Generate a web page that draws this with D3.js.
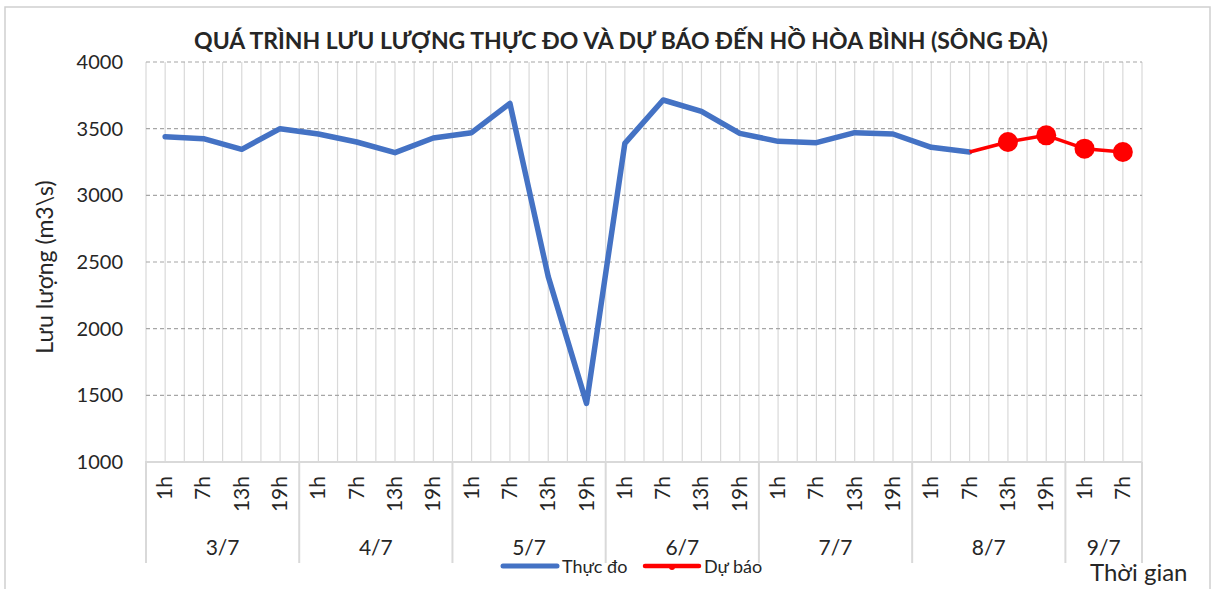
<!DOCTYPE html>
<html>
  <head>
    <meta charset="utf-8" />
    <title>Lưu lượng hồ Hòa Bình</title>
    <script src="https://d3js.org/d3.v7.min.js"></script>
    <style>
      body { margin: 0; background: #fff; }
      text { font-family: Lato, "Noto Sans", sans-serif; fill: #262626; }
    </style>
  </head>
  <body>
    <svg id="chart" width="1212" height="589"></svg>
    <script>
      // Data
      const days = ["3/7", "4/7", "5/7", "6/7", "7/7", "8/7", "9/7"];
      const hours = [
        ["1h", "7h", "13h", "19h"],
        ["1h", "7h", "13h", "19h"],
        ["1h", "7h", "13h", "19h"],
        ["1h", "7h", "13h", "19h"],
        ["1h", "7h", "13h", "19h"],
        ["1h", "7h", "13h", "19h"],
        ["1h", "7h"]
      ];
      const observed = [3440, 3425, 3345, 3500, 3460, 3400, 3320, 3430,
                        3470, 3690, 2390, 1440, 3390, 3715, 3630, 3465,
                        3405, 3395, 3470, 3460, 3360, 3325,
                        null, null, null, null];
      const forecast = [null, null, null, null, null, null, null, null,
                        null, null, null, null, null, null, null, null,
                        null, null, null, null, null, 3325,
                        3400, 3450, 3350, 3325];
      const yTicks = [1000, 1500, 2000, 2500, 3000, 3500, 4000];

      const plot = { left: 146, right: 1142, top: 62, bottom: 462 };

      // flatten categories
      const cats = [];
      days.forEach((d, i) => hours[i].forEach(h => cats.push({ day: d, hour: h, idx: cats.length })));

      const svg = d3.select('#chart');

      // outer border
      svg.append('rect')
         .attr('x', 5).attr('y', 7)
         .attr('width', 1205).attr('height', 620)
         .attr('fill', 'none').attr('stroke', '#cfcfcf').attr('stroke-width', 1.5);

      const x = d3.scaleBand()
                  .domain(cats.map(c => c.idx))
                  .range([plot.left, plot.right])
                  .padding(0);
      const bw = x.bandwidth();
      const cx = i => x(i) + bw / 2;

      const y = d3.scaleLinear()
                  .domain([1000, 4000])
                  .range([plot.bottom, plot.top]);

      // vertical gridlines (category edges + centers)
      const vlines = [];
      cats.forEach(c => { vlines.push(x(c.idx)); vlines.push(cx(c.idx)); });
      vlines.push(plot.right);
      svg.append('g').selectAll('line')
         .data(vlines).enter().append('line')
           .attr('x1', d => d).attr('x2', d => d)
           .attr('y1', plot.top).attr('y2', plot.bottom)
           .attr('stroke', '#d9d9d9').attr('stroke-width', 1.2);

      // horizontal dashed gridlines
      svg.append('g').selectAll('line')
         .data(yTicks.filter(t => t > 1000)).enter().append('line')
           .attr('x1', plot.left).attr('x2', plot.right)
           .attr('y1', d => y(d)).attr('y2', d => y(d))
           .attr('stroke', '#a6a6a6').attr('stroke-width', 1.2)
           .attr('stroke-dasharray', '4,3');

      // y axis labels
      const yAxis = svg.append('g')
         .attr('transform', `translate(${plot.left}, 0)`)
         .call(d3.axisLeft(y).tickValues(yTicks).tickFormat(d3.format('d'))
                 .tickSize(0).tickPadding(23));
      yAxis.select('.domain').remove();
      yAxis.selectAll('text')
           .style('font-family', 'Lato, "Noto Sans", sans-serif')
           .style('font-size', '20px').attr('fill', '#262626');

      // category axis line
      svg.append('line')
         .attr('x1', plot.left - 1).attr('x2', plot.right)
         .attr('y1', plot.bottom).attr('y2', plot.bottom)
         .attr('stroke', '#d9d9d9').attr('stroke-width', 2);

      // group separators
      const groupStart = [];
      let acc = 0;
      hours.forEach(h => { groupStart.push(acc); acc += h.length; });
      const sepX = groupStart.map(i => x(i)).concat([plot.right]);
      svg.append('g').selectAll('line')
         .data(sepX).enter().append('line')
           .attr('x1', d => d).attr('x2', d => d)
           .attr('y1', plot.bottom).attr('y2', 563)
           .attr('stroke', '#d9d9d9').attr('stroke-width', 2);

      // hour labels (rotated)
      svg.append('g').selectAll('text')
         .data(cats).enter().append('text')
           .attr('transform', d => `translate(${cx(d.idx) + 7}, 476) rotate(-90)`)
           .attr('text-anchor', 'end')
           .style('font-size', '21px')
           .text(d => d.hour);

      // day labels
      svg.append('g').selectAll('text')
         .data(days).enter().append('text')
           .attr('x', (d, i) => (sepX[i] + sepX[i + 1]) / 2)
           .attr('y', 555)
           .attr('text-anchor', 'middle')
           .style('font-size', '21px')
           .text(d => d);

      // lines
      const line = d3.line()
                     .defined(d => d != null)
                     .x((d, i) => cx(i))
                     .y(d => y(d));

      svg.append('path')
         .datum(observed)
         .attr('d', line)
         .attr('fill', 'none').attr('stroke', '#4472c4')
         .attr('stroke-width', 5.5).attr('stroke-linejoin', 'round').attr('stroke-linecap', 'round');

      svg.append('path')
         .datum(forecast)
         .attr('d', line)
         .attr('fill', 'none').attr('stroke', '#ff0000')
         .attr('stroke-width', 3.5).attr('stroke-linejoin', 'round');

      // forecast markers (the joining point has no marker)
      const firstF = forecast.findIndex(v => v != null);
      svg.append('g').selectAll('circle')
         .data(forecast.map((v, i) => ({ v, i })).filter(d => d.v != null && d.i > firstF))
         .enter().append('circle')
           .attr('cx', d => cx(d.i)).attr('cy', d => y(d.v))
           .attr('r', 10).attr('fill', '#ff0000');

      // title
      svg.append('text')
         .attr('x', 621).attr('y', 49)
         .attr('text-anchor', 'middle')
         .style('font-size', '23px').style('font-weight', 'bold')
         .attr('fill', '#000')
         .text('QUÁ TRÌNH LƯU LƯỢNG THỰC ĐO VÀ DỰ BÁO ĐẾN HỒ HÒA BÌNH (SÔNG ĐÀ)');

      // y axis title
      svg.append('text')
         .attr('transform', 'translate(53, 267) rotate(-90)')
         .attr('text-anchor', 'middle')
         .style('font-size', '23px')
         .attr('fill', '#000')
         .text('Lưu lượng (m3\\s)');

      // x axis title
      svg.append('text')
         .attr('x', 1090).attr('y', 581)
         .style('font-size', '24px')
         .text('Thời gian');

      // legend
      const legend = [
        { name: 'Thực đo', color: '#4472c4', w: 5, x: 503, marker: false },
        { name: 'Dự báo', color: '#ff0000', w: 4.5, x: 645, marker: true }
      ];
      const lg = svg.append('g').selectAll('g')
         .data(legend).enter().append('g')
           .attr('transform', d => `translate(${d.x}, 566)`);
      lg.append('line')
        .attr('x1', 0).attr('x2', 54).attr('y1', 0).attr('y2', 0)
        .attr('stroke', d => d.color).attr('stroke-width', d => d.w)
        .attr('stroke-linecap', 'round');
      lg.filter(d => d.marker).append('circle')
        .attr('cx', 27).attr('cy', 1).attr('r', 3).attr('fill', d => d.color);
      lg.append('text')
        .attr('x', 59).attr('y', 7)
        .style('font-size', '18px')
        .text(d => d.name);
    </script>
  </body>
</html>
